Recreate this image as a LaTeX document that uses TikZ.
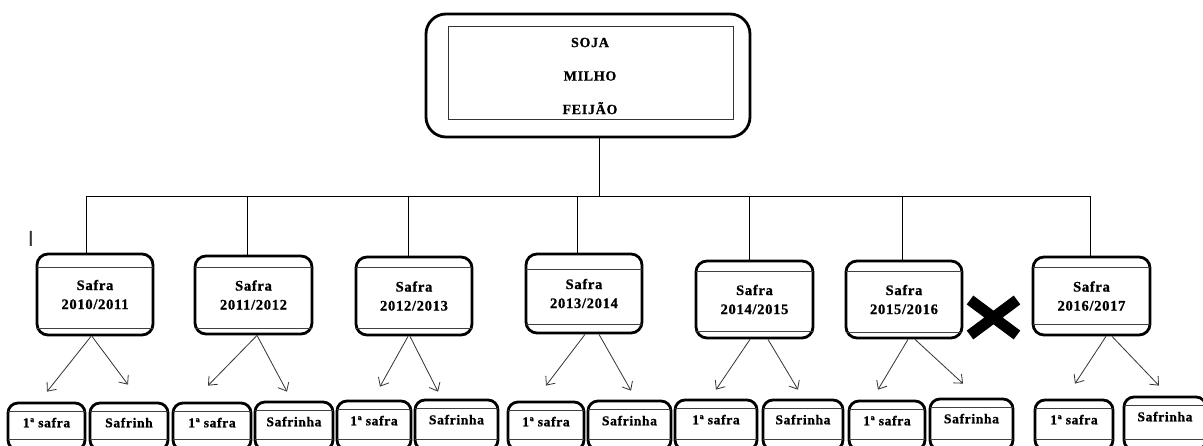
\documentclass[tikz,border=0pt]{standalone}
\usepackage{fontspec}
\setmainfont{Liberation Serif}
\newfontfamily\lblfont[LetterSpace=5, BoldFeatures={FakeBold=0.8}]{Liberation Serif}
\newfontfamily\marksans{Liberation Sans}
\usetikzlibrary{arrows.meta}
% safra box: name, cx, cy, w, h, text, top inner offset, bottom inner offset
\newcommand\mkSafra[8]{%
  \node[outerbox, minimum width=#4pt, minimum height=#5pt] (#1) at (#2,#3) {#6};
  \draw[innerline] ([xshift=1.5pt,yshift=-#7pt]#1.north west) -- ([xshift=-1.5pt,yshift=-#7pt]#1.north east);
  \draw[innerline] ([xshift=1.5pt,yshift=#8pt]#1.south west) -- ([xshift=-1.5pt,yshift=#8pt]#1.south east);
}
% bottom box: name, cx, w, top, text
\newcommand\mkLeaf[5]{%
  \pgfmathsetmacro\leafh{450-#4}%
  \pgfmathsetmacro\leafc{(450+#4)/2}%
  \node[leafbox, minimum width=#3pt, minimum height=\leafh pt] (#1) at (#2,\leafc) {};
  \node[leaftext] (#1t) at ([yshift=-21pt]#1.north) {#5};
  \draw[innerline] ([xshift=1.5pt,yshift=-10pt]#1.north west) -- ([xshift=-1.5pt,yshift=-10pt]#1.north east);
  \draw[innerline] ([xshift=1.5pt]#1.west |- lowline) -- ([xshift=-1.5pt]#1.east |- lowline);
}
\begin{document}
\begin{tikzpicture}[x=1pt,y=-1pt,
  outerbox/.style={draw=black, line width=2.8pt, rounded corners=11pt, inner sep=0pt,
    font=\lblfont\bfseries\fontsize{14.5}{19}\selectfont, align=center},
  leafbox/.style={draw=black, line width=2.8pt, rounded corners=10pt, inner sep=0pt},
  leaftext/.style={inner sep=0pt, font=\lblfont\bfseries\fontsize{13.5}{16}\selectfont},
  innerline/.style={line width=0.9pt, draw=black!75},
  busline/.style={line width=0.9pt, draw=black},
  arr/.style={line width=0.8pt, draw=black!80,
    -{Straight Barb[length=7pt,width=12pt,line width=0.8pt]}}
]
\clip (0,0) rectangle (1203,446);
\fill[white] (0,0) rectangle (1203,446);
\coordinate (lowline) at (0,439);

% top box
\node[draw=black, line width=2.8pt, rounded corners=20pt, minimum width=324pt, minimum height=123pt, inner sep=0pt] (top) at (588,75.5) {};
\node[draw=black!80, line width=1pt, minimum width=285pt, minimum height=93pt, inner sep=0pt] (inner) at (590.5,73.5) {};
\node[align=center, inner sep=0pt, font=\lblfont\bfseries\fontsize{14}{33.5}\selectfont] (crops) at (590,76) {SOJA\\MILHO\\FEIJÃO};

% safra boxes
\mkSafra{s1}{95}{294.5}{116}{81}{Safra\\2010/2011}{15}{8}
\mkSafra{s2}{253.5}{295}{117}{78}{Safra\\2011/2012}{13}{7}
\mkSafra{s3}{414}{296}{116}{78}{Safra\\2012/2013}{12}{8}
\mkSafra{s4}{584}{293.5}{116}{79}{Safra\\2013/2014}{17}{10}
\mkSafra{s5}{754.5}{299.5}{117}{77}{Safra\\2014/2015}{12}{8}
\mkSafra{s6}{904}{299.5}{116}{77}{Safra\\2015/2016}{12}{7}
\mkSafra{s7}{1091.5}{296}{117}{78}{Safra\\2016/2017}{12}{12}

% tree lines
\coordinate (junction) at (599,196);
\draw[busline] ([xshift=11pt]top.south) -- (junction);
\draw[busline] ([xshift=-9pt]s1.north) |- (junction);
\draw[busline] ([xshift=-6.5pt]s2.north) |- (junction);
\draw[busline] ([xshift=-6pt]s3.north) |- (junction);
\draw[busline] ([xshift=-7pt]s4.north) |- (junction);
\draw[busline] ([xshift=-5.5pt]s5.north) |- (junction);
\draw[busline] ([xshift=-2pt]s6.north) |- (junction);
\draw[busline] ([xshift=-1.5pt]s7.north) |- (junction);

% leaf boxes
\mkLeaf{b1}{46.5}{77}{403}{1ª safra}
\mkLeaf{b2}{129}{78}{403}{Safrinh}
\mkLeaf{b3}{212}{78}{403}{1ª safra}
\mkLeaf{b4}{294}{78}{402}{Safrinha}
\mkLeaf{b5}{374}{74}{401}{1ª safra}
\mkLeaf{b6}{456.5}{83}{400}{Safrinha}
\mkLeaf{b7}{546}{76}{402}{1ª safra}
\mkLeaf{b8}{629.5}{83}{401}{Safrinha}
\mkLeaf{b9}{716}{82}{400}{1ª safra}
\mkLeaf{b10}{803}{80}{400}{Safrinha}
\mkLeaf{b11}{887}{76}{401}{1ª safra}
\mkLeaf{b12}{971.5}{83}{399}{Safrinha}
\mkLeaf{b13}{1074}{78}{400}{1ª safra}
\mkLeaf{b14}{1165}{82}{397}{Safrinha}

% arrows
\draw[arr] ([xshift=-4pt]s1.south) -- ([shift={(0.5pt,10pt)}]b1.north);
\draw[arr] ([xshift=-3pt]s1.south) -- ([shift={(-1pt,17pt)}]b2.north);
\draw[arr] ([xshift=3.5pt]s2.south) -- ([shift={(-4pt,16pt)}]b3.north);
\draw[arr] ([xshift=3.5pt]s2.south) -- ([shift={(-7pt,9pt)}]b4.north);
\draw[arr] ([xshift=-6pt]s3.south) -- ([shift={(6pt,13pt)}]b5.north);
\draw[arr] ([xshift=-4pt]s3.south) -- ([shift={(-18.5pt,7pt)}]b6.north);
\draw[arr] ([xshift=1pt]s4.south) -- ([shift={(0pt,15pt)}]b7.north);
\draw[arr] ([xshift=15pt]s4.south) -- ([shift={(1.5pt,9pt)}]b8.north);
\draw[arr] ([xshift=-4.5pt]s5.south) -- ([shift={(0pt,9pt)}]b9.north);
\draw[arr] ([xshift=13.5pt]s5.south) -- ([shift={(-5pt,9pt)}]b10.north);
\draw[arr] ([xshift=4pt]s6.south) -- ([shift={(-9pt,10pt)}]b11.north);
\draw[arr] ([xshift=11pt]s6.south) -- ([shift={(-8.5pt,14pt)}]b12.north);
\draw[arr] ([xshift=14.5pt]s7.south) -- ([shift={(1pt,15pt)}]b13.north);
\draw[arr] ([xshift=20.5pt]s7.south) -- ([shift={(-6pt,10pt)}]b14.north);

% cross mark
\draw[line width=11pt] (970,300) -- (1017,335) (1017,300) -- (970,335);

% stray mark
\node[inner sep=0pt, text=black!80, font=\marksans\fontsize{22}{22}\selectfont] (imark) at (31,238.5) {I};
\end{tikzpicture}
\end{document}
